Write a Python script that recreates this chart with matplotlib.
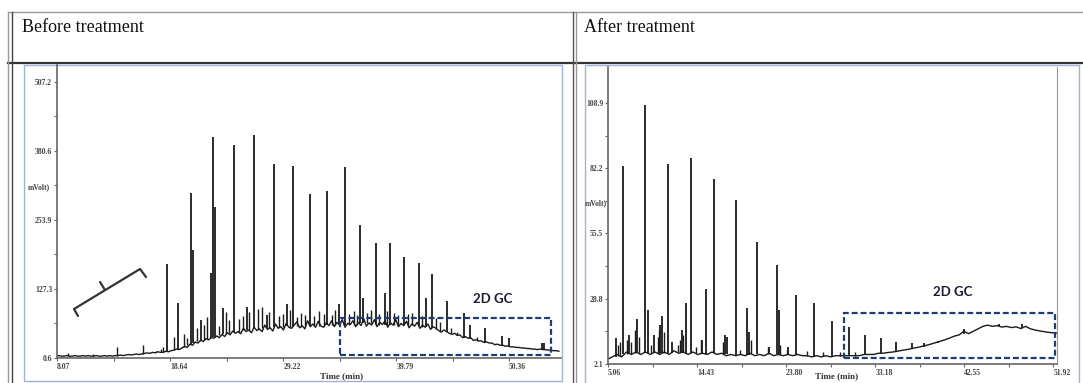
import numpy as np
import matplotlib.pyplot as plt
from matplotlib.patches import Rectangle

W, H = 1083, 383

# ---------------- Before treatment ----------------
before_xticks = [8.07, 18.64, 29.22, 39.79, 50.36]
before_yticks = [0.6, 127.3, 253.9, 380.6, 507.2]
before_xlim = (8.07, 55.2)
before_ylim = (0.6, 538)

# baseline, every 0.25 min from 8.0 min
before_base = [
    4, 5, 4, 4, 5, 4, 4, 5, 4, 4, 5, 4, 5, 4, 4, 5, 4, 4, 5, 4,
    5, 4, 5, 5, 6, 5, 6, 7, 6, 7, 8, 7, 8, 9, 10, 9, 11, 10, 12, 11,
    11, 13, 12, 14, 15, 17, 16, 19, 22, 20, 26, 24, 30, 28, 33, 31, 36, 34, 38, 37,
    41, 38, 44, 40, 47, 43, 50, 46, 49, 45, 55, 49, 52, 47, 57, 51, 54, 49, 61, 53,
    56, 50, 63, 55, 58, 52, 64, 57, 55, 61, 67, 56, 60, 54, 69, 58, 63, 57, 68, 59,
    57, 65, 60, 69, 58, 66, 61, 71, 57, 64, 62, 69, 58, 66, 60, 73, 59, 65, 61, 71,
    58, 66, 62, 69, 57, 65, 61, 71, 58, 64, 60, 68, 56, 63, 59, 66, 55, 61, 57, 63,
    53, 58, 55, 51, 48, 52, 49, 46, 44, 46, 42, 43, 38, 40, 37, 38, 33, 34, 32, 32,
    29, 30, 28, 28, 25, 26, 24, 24, 22, 23, 21, 21, 20, 20, 19, 19, 18, 18, 17, 17,
    16, 17, 16, 16, 15, 15, 14, 14, 13,
]
before_base_t0 = 8.0
before_base_step = 0.25

before_peak_t = [18.35, 19.4, 20.6, 20.8, 21.5, 22.45, 22.65, 22.85, 23.6, 24.6,
                 25.8, 26.5, 27.7, 28.35, 29.6, 30.1, 31.7, 33.3, 34.4, 35.0,
                 36.4, 36.7, 37.9, 38.7, 39.2, 40.5, 41.9, 42.6, 43.1, 44.5,
                 46.1, 46.7, 48.1, 49.7, 50.3, 53.4, 53.6]
before_peak_h = [173, 101, 303, 199, 70, 157, 406, 278, 92, 391,
                 94, 410, 80, 357, 100, 353, 301, 307, 100, 351,
                 245, 111, 212, 120, 212, 186, 175, 111, 155, 105,
                 83, 61, 56, 41, 37, 28, 28]
before_peak_foot = [12, 18, 27, 29, 33, 38, 39, 40, 44, 49,
                    52, 55, 56, 58, 60, 58, 60, 62, 62, 62,
                    64, 64, 62, 62, 62, 62, 60, 58, 55, 48,
                    37, 35, 29, 23, 21, 16, 16]

# small peaks and noise spikes
before_small_t = [9.1, 11.4, 13.7, 16.1, 17.3, 17.8, 18.0,
                  19.0, 19.9, 20.2, 21.2, 21.8, 22.1, 23.2, 23.9, 24.2, 25.1,
                  25.5, 26.0, 26.9, 27.2, 27.9, 28.8, 29.2, 29.9, 30.5, 30.9,
                  31.3, 32.1, 32.6, 33.0, 33.8, 34.1, 35.4, 35.8, 36.1, 37.1,
                  37.4, 38.2, 38.9, 39.6, 40.0, 40.9, 41.3, 42.2, 43.5, 43.9,
                  44.9, 45.5, 47.3]
before_small_h = [10, 8, 21, 24, 14, 17, 20,
                  40, 45, 38, 55, 62, 75, 60, 85, 70, 72,
                  78, 85, 90, 95, 85, 78, 82, 88, 75, 84,
                  80, 78, 86, 82, 80, 88, 82, 86, 80, 84,
                  88, 82, 86, 84, 80, 82, 84, 78, 74, 66,
                  55, 48, 40]
before_small_foot = [4, 4, 5, 8, 11, 11, 11,
                     15, 20, 24, 31, 34, 36, 42, 45, 47, 49,
                     52, 52, 54, 55, 56, 57, 57, 58, 60, 58,
                     60, 60, 60, 60, 62, 62, 62, 62, 62, 64,
                     64, 62, 62, 62, 62, 62, 62, 58, 54, 50,
                     46, 42, 32]

# ---------------- After treatment ----------------
after_xticks = [5.06, 14.43, 23.80, 33.18, 42.55, 51.92]
after_yticks = [2.1, 28.8, 55.5, 82.2, 108.9]
after_xlim = (5.06, 52.3)
after_ylim = (2.1, 123.6)

# baseline, every 0.5 min from 5.0 min
after_base = [
    4, 5, 6, 5, 7, 6, 7, 6, 7, 6,
    7, 6, 7, 6, 7.5, 6.5, 7, 6, 7, 6,
    6.5, 6, 7, 6, 6.5, 5.5, 6, 5.5, 6, 5.5,
    6.5, 5.5, 6, 5.5, 6.5, 5.5, 6, 5.5, 6, 5.5,
    6, 5.5, 5.5, 5, 5.5, 5, 5.5, 5, 5.5, 5.5,
    5.5, 5.5, 5.5, 5.5, 6, 6, 6, 6.5, 6.5, 6.8,
    7, 7.3, 7.7, 8, 8.4, 8.8, 9.2, 9.7, 10.2, 10.8,
    11.4, 12, 12.7, 13.5, 14, 15.5, 14.5, 15.5, 16.5, 17.5,
    18, 17.5, 17.8, 17.2, 17.5, 17, 17.3, 16.6, 17.5, 16.5,
    16, 15.6, 15.3, 15, 14.8, 14.8,
]
after_base_t0 = 5.0
after_base_step = 0.5

after_peak_t = [5.9, 6.64, 7.3, 8.1, 8.95, 9.25, 9.9, 10.55, 10.75, 11.4,
                11.8, 12.8, 13.3, 13.8, 15.0, 15.4, 16.2, 17.4, 17.6, 18.5,
                19.7, 19.9, 20.75, 22.0, 22.85, 23.05, 24.0, 24.85, 26.75, 28.6,
                30.4, 32.1, 33.8, 35.4, 37.0, 38.3, 39.8, 42.5, 46.2, 48.6]
after_peak_h = [12.7, 83.1, 14, 20.5, 108.1, 24, 14, 18, 21.7, 84,
                11, 16, 27, 86.4, 12, 32.8, 77.8, 14, 13, 69.2,
                25, 15, 52, 9, 42.6, 24, 9, 30.3, 27, 19.7,
                17.2, 14, 12.7, 11, 10.7, 10.7, 11.5, 16.5, 18.6, 18.6]
after_peak_foot = [5, 6, 6, 6.5, 6.5, 6.5, 6.5, 6.5, 6.5, 6.5,
                   6.5, 7, 6.5, 6.5, 6.5, 6, 6.5, 6, 6, 5.8,
                   5.8, 5.8, 6, 6, 6, 6, 6, 5.8, 5.5, 5.3,
                   5.5, 6, 6.5, 7.3, 8.4, 9.2, 10.5, 14.5, 17.6, 16.8]

after_small_t = [6.1, 6.3, 7.1, 7.5, 7.9, 8.3, 9.6, 10.3, 10.45, 10.95,
                 12.4, 12.6, 13.0, 14.3, 14.8, 17.2, 18.9, 20.1, 21.9, 23.2,
                 23.9, 26.0, 27.7, 29.5, 31.0]
after_small_h = [10, 11, 12, 11, 16, 13, 10, 13, 16, 15,
                 10, 12, 14, 9, 12, 11, 8, 12, 9, 10,
                 8, 7.5, 7, 7, 7]
after_small_foot = [5.5, 5.5, 6, 6, 6.5, 6.5, 6.5, 6.5, 6.5, 6.5,
                    7, 7, 7, 6.5, 6.5, 6, 6, 6, 6, 6,
                    6, 5.5, 5.3, 5.5, 5.5]

# 2D GC regions (time from, time to, signal from, signal to)
before_box = (34.5, 54.3, 6, 74)
after_box = (29.9, 52.1, 4.6, 23)
before_label_pos = (48.8, 109)
after_label_pos = (41.3, 31.6)

INK = "#1a1a1a"
AXC = "#666666"
NAVY = "#1f3b78"
FRAME = "#9fb3d6"
SERIF = "Liberation Serif"


def px_rect(x0, y0, x1, y1):
    return [x0 / W, 1 - y1 / H, (x1 - x0) / W, (y1 - y0) / H]


fig = plt.figure(figsize=(W / 100, H / 100), dpi=100)

# page / table layer in pixel coordinates
canvas = fig.add_axes([0, 0, 1, 1])
canvas.set_xlim(0, W)
canvas.set_ylim(H, 0)
canvas.axis("off")

canvas.plot([8, W], [12, 12], color="#9a9a9a", lw=1.0)
canvas.plot([8, W], [63, 63], color="#333333", lw=1.6)
for x, c in [(8, "#999999"), (12, "#444444"), (573, "#555555"), (576, "#999999")]:
    canvas.plot([x, x], [12, H], color=c, lw=1.0)
canvas.add_patch(Rectangle((24, 65), 538, 316, fill=False, ec=FRAME, lw=1.0))
canvas.add_patch(Rectangle((585, 65), 494, 330, fill=False, ec=FRAME, lw=1.0))

canvas.text(22, 27, "Before treatment", family=SERIF, fontsize=13, va="center", ha="left", color="#111")
canvas.text(584, 27, "After treatment", family=SERIF, fontsize=13, va="center", ha="left", color="#111")

tick_font = dict(family=SERIF, fontsize=5.5, fontweight="bold", color="#444")
canvas.text(39, 187, "mVolt)", ha="center", va="center", **tick_font)
canvas.text(596, 203, "mVolt)", ha="center", va="center", **tick_font)
canvas.text(342, 376, "Time (min)", ha="center", va="center",
            family=SERIF, fontsize=6.5, fontweight="bold", color="#333")
canvas.text(837, 376, "Time (min)", ha="center", va="center",
            family=SERIF, fontsize=6.5, fontweight="bold", color="#333")


def chromatogram(rect, xlim, ylim, xticks, yticks, base, t0, step,
                 pk_t, pk_h, pk_f, sm_t, sm_h, sm_f, box, label_pos, right_spine):
    ax = fig.add_axes(rect)
    ax.patch.set_alpha(0)
    base_t = t0 + step * np.arange(len(base))
    ax.vlines(sm_t, sm_f, sm_h, color=INK, lw=1.0)
    ax.vlines(pk_t, pk_f, pk_h, color=INK, lw=1.3)
    ax.plot(base_t, base, color=INK, lw=1.0)
    ax.set_xlim(*xlim)
    ax.set_ylim(*ylim)

    ax.set_xticks(xticks, labels=[f"{v:.2f}" for v in xticks])
    ax.set_xticks([(a + b) / 2 for a, b in zip(xticks[:-1], xticks[1:])], minor=True)
    ax.set_yticks(yticks, labels=[f"{v:.1f}" for v in yticks])
    ax.set_yticks([(a + b) / 2 for a, b in zip(yticks[:-1], yticks[1:])], minor=True)
    for lbl in ax.get_xticklabels():
        lbl.set_ha("left")
        lbl.set(**tick_font)
    for lbl in ax.get_yticklabels():
        lbl.set(**tick_font)
    ax.tick_params(which="both", direction="out", length=2.5, width=0.8,
                   color=AXC, pad=1)

    for s in ["top", "right"]:
        ax.spines[s].set_visible(False)
    if right_spine:
        ax.spines["right"].set_visible(True)
        ax.spines["right"].set_color("#999999")
    for s in ["left", "bottom"]:
        ax.spines[s].set_color(AXC)
        ax.spines[s].set_linewidth(1.2)

    x0, x1, y0, y1 = box
    ax.add_patch(Rectangle((x0, y0), x1 - x0, y1 - y0, fill=False, ec=NAVY,
                           lw=1.6, ls=(0, (2.7, 1.3)), clip_on=False, zorder=5))
    ax.text(*label_pos, "2D GC", family="Lato", fontweight="bold", fontsize=9.5,
            color="#1c1c30", ha="center", va="center")
    return ax


ax1 = chromatogram(px_rect(57, 65, 561, 358), before_xlim, before_ylim,
                   before_xticks, before_yticks, before_base, before_base_t0, before_base_step,
                   before_peak_t, before_peak_h, before_peak_foot,
                   before_small_t, before_small_h, before_small_foot,
                   before_box, before_label_pos, False)

# bracket in the early, empty part of the first run
br = dict(color="#333333", lw=1.6, transform=ax1.transAxes, solid_capstyle="round")
bx = lambda px: (px - 57) / 504
by = lambda py: (358 - py) / 293
ax1.plot([bx(78), bx(74), bx(140), bx(146)], [by(316), by(309), by(269), by(277)], **br)
ax1.plot([bx(105), bx(100)], [by(290), by(282)], **br)

ax2 = chromatogram(px_rect(608, 67, 1057, 364), after_xlim, after_ylim,
                   after_xticks, after_yticks, after_base, after_base_t0, after_base_step,
                   after_peak_t, after_peak_h, after_peak_foot,
                   after_small_t, after_small_h, after_small_foot,
                   after_box, after_label_pos, True)

fig.savefig("out.png", dpi=100)
